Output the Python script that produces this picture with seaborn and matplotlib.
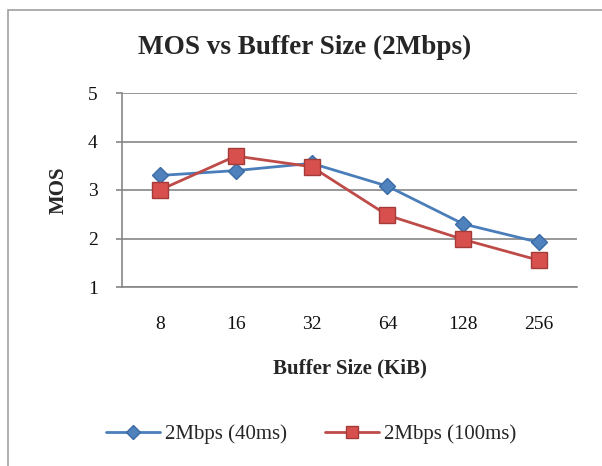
import matplotlib
matplotlib.use("Agg")
import matplotlib.pyplot as plt
import seaborn as sns
import pandas as pd
from matplotlib.patches import Rectangle

categories = ["8", "16", "32", "64", "128", "256"]
mos_40ms = [3.3, 3.4, 3.55, 3.08, 2.3, 1.92]
mos_100ms = [3.0, 3.7, 3.48, 2.48, 1.98, 1.55]
series_names = ["2Mbps (40ms)", "2Mbps (100ms)"]
y_ticks = [1, 2, 3, 4, 5]

sns.set_theme(style="white")
plt.rcParams["font.family"] = ["Liberation Serif", "DejaVu Serif"]

df = pd.DataFrame({
    "Buffer": categories * 2,
    "MOS": mos_40ms + mos_100ms,
    "Series": [series_names[0]] * len(categories) + [series_names[1]] * len(categories),
})

fig = plt.figure(figsize=(6.02, 4.66), dpi=100)
fig.patches.append(Rectangle((8 / 602, -0.1), 1.2, 1 - 10 / 466 + 0.1, transform=fig.transFigure,
                             fill=False, edgecolor="#a0a0a0", linewidth=1.2))
ax = fig.add_axes([122 / 602, 1 - 287 / 466, (577 - 122) / 602, (287 - 93) / 466])

palette = {series_names[0]: "#4A7EBB", series_names[1]: "#BE4B48"}
sns.lineplot(data=df, x="Buffer", y="MOS", hue="Series", style="Series",
             markers={series_names[0]: "D", series_names[1]: "s"}, dashes=False,
             palette=palette, linewidth=2, ax=ax, legend=False, sort=False)
for line, mfc, mec, ms in zip(ax.lines, ["#4F81BD", "#D8504D"], ["#3A6BA5", "#A33B38"], [8, 11]):
    line.set_markerfacecolor(mfc)
    line.set_markeredgecolor(mec)
    line.set_markersize(ms)
    line.set_markeredgewidth(1.0)

ax.set_xlim(-0.5, len(categories) - 0.5)
ax.set_ylim(1, 5)
ax.set_yticks(y_ticks)
ax.set_yticklabels([str(t) for t in y_ticks], fontsize=14, color="#111111")
ax.set_xticks(range(len(categories)))
ax.set_xticklabels(categories, fontsize=14, color="#111111")
ax.tick_params(axis="x", which="major", length=0, pad=21)
ax.set_xticks([i - 0.5 for i in range(len(categories) + 1)], minor=True)
ax.tick_params(axis="x", which="minor", length=4.5, color="#868686", width=1.2, direction="out")
ax.tick_params(axis="y", length=4.5, color="#868686", width=1.2, direction="out", pad=13, left=True)
ax.grid(axis="y", color="#868686", linewidth=1.2)
ax.set_axisbelow(True)
for side in ["top", "right"]:
    ax.spines[side].set_visible(False)
for side in ["left", "bottom"]:
    ax.spines[side].set_color("#868686")
    ax.spines[side].set_linewidth(1.2)

ax.set_xlabel("Buffer Size (KiB)", fontsize=15, fontweight="bold", labelpad=18)
ax.set_ylabel("MOS", fontsize=15, fontweight="bold", labelpad=14)
fig.text(305 / 602, 1 - 47 / 466, "MOS vs Buffer Size (2Mbps)", ha="center", va="center",
         fontsize=19.5, fontweight="bold")

handles = ax.lines[:2]
leg = fig.legend(handles, series_names, loc="center", bbox_to_anchor=(311 / 602, 1 - 434 / 466),
                 ncol=2, frameon=False, fontsize=15, handlelength=2.6, columnspacing=1.8,
                 handletextpad=0.25)
for h, ms in zip(leg.legend_handles, [7, 9]):
    h.set_markersize(ms)

fig.savefig("out.png", dpi=100)
